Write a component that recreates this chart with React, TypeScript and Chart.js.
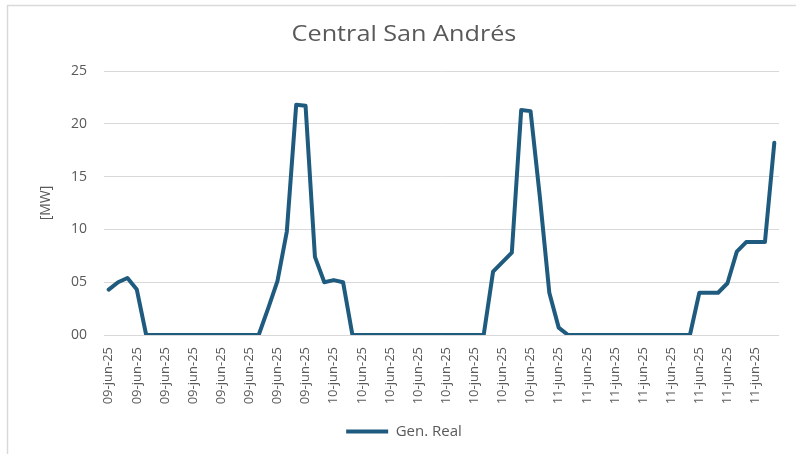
import React, { useEffect, useRef } from "react";
import { Chart, registerables } from "chart.js";

Chart.register(...registerables);

const chartTitle = "Central San Andrés";
const seriesName = "Gen. Real";
const yAxisTitle = "[MW]";

// one label every 3 hourly points (24 labels, 72 points)
const tickLabels = [
  "09-jun-25", "09-jun-25", "09-jun-25", "09-jun-25", "09-jun-25", "09-jun-25", "09-jun-25", "09-jun-25",
  "10-jun-25", "10-jun-25", "10-jun-25", "10-jun-25", "10-jun-25", "10-jun-25", "10-jun-25", "10-jun-25",
  "11-jun-25", "11-jun-25", "11-jun-25", "11-jun-25", "11-jun-25", "11-jun-25", "11-jun-25", "11-jun-25",
];

const genReal = [
  4.3, 5.0, 5.4, 4.3,
  0, 0, 0, 0, 0, 0, 0, 0, 0, 0, 0, 0, 0,
  2.5, 5.1, 9.8, 21.8, 21.7, 7.4, 5.0, 5.2, 5.0,
  0, 0, 0, 0, 0, 0, 0, 0, 0, 0, 0, 0, 0, 0, 0,
  6.0, 6.9, 7.8, 21.3, 21.2, 13.0, 4.0, 0.7,
  0, 0, 0, 0, 0, 0, 0, 0, 0, 0, 0, 0, 0, 0,
  4.0, 4.0, 4.0, 4.9, 7.9, 8.8, 8.8, 8.8, 18.2,
];

const categories = genReal.map((_, i) => tickLabels[Math.floor(i / 3)]);

const FONT = "'Open Sans', sans-serif";
const GRAY = "#595959";
const LINE = "#1f5b7e";

const bgPlugin = {
  id: "bgBorder",
  beforeDraw(chart: any) {
    const ctx = chart.ctx;
    ctx.save();
    ctx.fillStyle = "#ffffff";
    ctx.fillRect(0, 0, chart.width, chart.height);
    ctx.strokeStyle = "#d9d9d9";
    ctx.lineWidth = 1.5;
    ctx.beginPath();
    ctx.moveTo(7.5, chart.height);
    ctx.lineTo(7.5, 5.5);
    ctx.lineTo(chart.width, 5.5);
    ctx.stroke();
    ctx.restore();
  },
};

// title drawn slightly widened to match the reference's proportions
const titlePlugin = {
  id: "wideTitle",
  afterDraw(chart: any) {
    const ctx = chart.ctx;
    ctx.save();
    ctx.fillStyle = GRAY;
    ctx.font = "normal 21px " + FONT;
    ctx.textAlign = "center";
    ctx.textBaseline = "middle";
    ctx.translate(404, 35);
    ctx.scale(1.2, 1);
    ctx.fillText(chartTitle, 0, 0);
    ctx.restore();
  },
};

export default function App() {
  const ref = useRef<HTMLCanvasElement>(null);

  useEffect(() => {
    if (!ref.current) return;
    const chart = new Chart(ref.current, {
      type: "line",
      data: {
        labels: categories,
        datasets: [
          {
            label: seriesName,
            data: genReal,
            borderColor: LINE,
            backgroundColor: LINE,
            borderWidth: 4,
            pointRadius: 0,
            tension: 0,
            borderJoinStyle: "round",
            borderCapStyle: "round",
          },
        ],
      },
      options: {
        responsive: false,
        animation: false,
        layout: { padding: { left: 29, right: 17, top: 71, bottom: 5 } },
        plugins: {
          title: { display: false },
          legend: {
            position: "bottom",
            labels: {
              color: GRAY,
              font: { family: FONT, size: 15 },
              usePointStyle: true,
              pointStyle: "line",
              pointStyleWidth: 42,
              padding: 10,
            },
          },
          tooltip: { enabled: false },
        },
        scales: {
          x: {
            offset: true,
            grid: { display: false },
            border: { display: false },
            ticks: {
              autoSkip: false,
              maxRotation: 90,
              minRotation: 90,
              color: GRAY,
              font: { family: FONT, size: 13 },
              padding: 4,
              callback: (_v: any, i: number) => (i % 3 === 0 ? tickLabels[i / 3] : ""),
            },
            afterFit: (s: any) => {
              s.height = 79;
            },
          },
          y: {
            min: 0,
            max: 25,
            grid: { color: "#d9d9d9", drawTicks: false, lineWidth: 1 },
            border: { display: false },
            ticks: {
              stepSize: 5,
              color: GRAY,
              font: { family: FONT, size: 14 },
              padding: 17,
              callback: (v: any) => String(v).padStart(2, "0"),
            },
            title: {
              display: true,
              text: yAxisTitle,
              color: GRAY,
              font: { family: FONT, size: 14 },
              padding: { top: 9, bottom: 0 },
            },
            afterFit: (s: any) => {
              s.width = 75;
            },
          },
        },
      },
      plugins: [bgPlugin, titlePlugin],
    });
    return () => chart.destroy();
  }, []);

  return (
    <div style={{ position: "fixed", left: 0, top: 0, width: 796, height: 454 }}>
      <canvas ref={ref} width={796} height={454} style={{ display: "block" }} />
    </div>
  );
}
